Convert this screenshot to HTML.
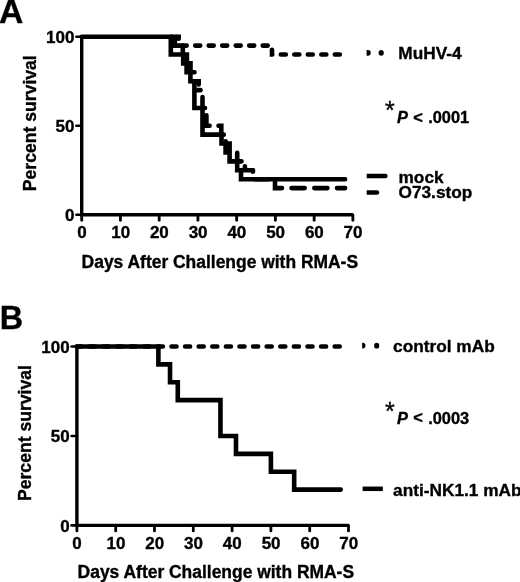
<!DOCTYPE html>
<html><head><meta charset="utf-8"><style>
html,body{margin:0;padding:0;background:#fff;}
svg{display:block;will-change:transform;}
.t{font-family:"Liberation Sans", sans-serif;font-weight:bold;font-size:17px;fill:#000;stroke:#000;stroke-width:0.35px;}
.xt{font-family:"Liberation Sans", sans-serif;font-weight:bold;font-size:17.45px;fill:#000;stroke:#000;stroke-width:0.35px;}
.yt{font-family:"Liberation Sans", sans-serif;font-weight:bold;font-size:17.6px;fill:#000;stroke:#000;stroke-width:0.35px;}
.big{font-family:"Liberation Sans", sans-serif;font-weight:bold;font-size:32.4px;fill:#000;stroke:#000;stroke-width:0.35px;}
.lg{font-family:"Liberation Sans", sans-serif;font-weight:bold;font-size:17.25px;fill:#000;stroke:#000;stroke-width:0.35px;}
.pv{font-family:"Liberation Sans", sans-serif;font-weight:bold;font-size:16.4px;fill:#000;stroke:#000;stroke-width:0.35px;}
.star{font-family:"Liberation Sans", sans-serif;font-weight:normal;font-size:25px;fill:#000;stroke:#000;stroke-width:0.35px;}
</style></head><body>
<svg width="520" height="582" viewBox="0 0 520 582">
<rect width="520" height="582" fill="#fff"/>
<text transform="translate(-0.9,22.5) scale(1.04,1)" class="big">A</text>
<text x="-0.3" y="328.6" class="big">B</text>
<path d="M81.70,36.70V214.80H352.88" fill="none" stroke="#000" stroke-width="3.4" stroke-linecap="butt" stroke-linejoin="miter"/>
<line x1="81.70" y1="214.80" x2="81.70" y2="220.30" stroke="#000" stroke-width="2.8" stroke-linecap="round"/>
<line x1="120.44" y1="214.80" x2="120.44" y2="220.30" stroke="#000" stroke-width="2.8" stroke-linecap="round"/>
<line x1="159.18" y1="214.80" x2="159.18" y2="220.30" stroke="#000" stroke-width="2.8" stroke-linecap="round"/>
<line x1="197.92" y1="214.80" x2="197.92" y2="220.30" stroke="#000" stroke-width="2.8" stroke-linecap="round"/>
<line x1="236.66" y1="214.80" x2="236.66" y2="220.30" stroke="#000" stroke-width="2.8" stroke-linecap="round"/>
<line x1="275.40" y1="214.80" x2="275.40" y2="220.30" stroke="#000" stroke-width="2.8" stroke-linecap="round"/>
<line x1="314.14" y1="214.80" x2="314.14" y2="220.30" stroke="#000" stroke-width="2.8" stroke-linecap="round"/>
<line x1="352.88" y1="214.80" x2="352.88" y2="220.30" stroke="#000" stroke-width="2.8" stroke-linecap="round"/>
<line x1="81.70" y1="214.80" x2="76.40" y2="214.80" stroke="#000" stroke-width="2.6" stroke-linecap="round"/>
<line x1="81.70" y1="125.75" x2="76.40" y2="125.75" stroke="#000" stroke-width="2.6" stroke-linecap="round"/>
<line x1="81.70" y1="36.70" x2="76.40" y2="36.70" stroke="#000" stroke-width="2.6" stroke-linecap="round"/>
<text x="81.90" y="238.10" text-anchor="middle" class="t">0</text>
<text x="120.64" y="238.10" text-anchor="middle" class="t">10</text>
<text x="159.38" y="238.10" text-anchor="middle" class="t">20</text>
<text x="198.12" y="238.10" text-anchor="middle" class="t">30</text>
<text x="236.86" y="238.10" text-anchor="middle" class="t">40</text>
<text x="275.60" y="238.10" text-anchor="middle" class="t">50</text>
<text x="314.34" y="238.10" text-anchor="middle" class="t">60</text>
<text x="353.08" y="238.10" text-anchor="middle" class="t">70</text>
<text x="74.40" y="220.90" text-anchor="end" class="t">0</text>
<text x="74.40" y="131.85" text-anchor="end" class="t">50</text>
<text x="74.40" y="42.80" text-anchor="end" class="t">100</text>
<text x="81.60" y="267.70" class="xt">Days After Challenge with RMA-S</text>
<path d="M76.90,346.50V525.40H348.50" fill="none" stroke="#000" stroke-width="3.4" stroke-linecap="butt" stroke-linejoin="miter"/>
<line x1="76.90" y1="525.40" x2="76.90" y2="530.90" stroke="#000" stroke-width="2.8" stroke-linecap="round"/>
<line x1="115.70" y1="525.40" x2="115.70" y2="530.90" stroke="#000" stroke-width="2.8" stroke-linecap="round"/>
<line x1="154.50" y1="525.40" x2="154.50" y2="530.90" stroke="#000" stroke-width="2.8" stroke-linecap="round"/>
<line x1="193.30" y1="525.40" x2="193.30" y2="530.90" stroke="#000" stroke-width="2.8" stroke-linecap="round"/>
<line x1="232.10" y1="525.40" x2="232.10" y2="530.90" stroke="#000" stroke-width="2.8" stroke-linecap="round"/>
<line x1="270.90" y1="525.40" x2="270.90" y2="530.90" stroke="#000" stroke-width="2.8" stroke-linecap="round"/>
<line x1="309.70" y1="525.40" x2="309.70" y2="530.90" stroke="#000" stroke-width="2.8" stroke-linecap="round"/>
<line x1="348.50" y1="525.40" x2="348.50" y2="530.90" stroke="#000" stroke-width="2.8" stroke-linecap="round"/>
<line x1="76.90" y1="525.40" x2="71.60" y2="525.40" stroke="#000" stroke-width="2.6" stroke-linecap="round"/>
<line x1="76.90" y1="435.95" x2="71.60" y2="435.95" stroke="#000" stroke-width="2.6" stroke-linecap="round"/>
<line x1="76.90" y1="346.50" x2="71.60" y2="346.50" stroke="#000" stroke-width="2.6" stroke-linecap="round"/>
<text x="77.10" y="548.70" text-anchor="middle" class="t">0</text>
<text x="115.90" y="548.70" text-anchor="middle" class="t">10</text>
<text x="154.70" y="548.70" text-anchor="middle" class="t">20</text>
<text x="193.50" y="548.70" text-anchor="middle" class="t">30</text>
<text x="232.30" y="548.70" text-anchor="middle" class="t">40</text>
<text x="271.10" y="548.70" text-anchor="middle" class="t">50</text>
<text x="309.90" y="548.70" text-anchor="middle" class="t">60</text>
<text x="348.70" y="548.70" text-anchor="middle" class="t">70</text>
<text x="69.60" y="531.50" text-anchor="end" class="t">0</text>
<text x="69.60" y="442.05" text-anchor="end" class="t">50</text>
<text x="69.60" y="352.60" text-anchor="end" class="t">100</text>
<text x="77.60" y="578.30" class="xt">Days After Challenge with RMA-S</text>
<text transform="translate(36,191.2) rotate(-90)" class="yt">Percent survival</text>
<text transform="translate(31.0,501.0) rotate(-90)" class="yt">Percent survival</text>
<path d="M81.70,36.70 L170.80,36.70 L170.80,54.51 L183.20,54.51 L183.20,63.42 L186.60,63.42 L186.60,72.32 L190.40,72.32 L190.40,81.23 L194.40,81.23 L194.40,107.94 L202.50,107.94 L202.50,134.66 L221.50,134.66 L221.50,143.56 L229.60,143.56 L229.60,161.37 L237.20,161.37 L237.20,170.28 L241.00,170.28 L241.00,179.18 L345.13,179.18" fill="none" stroke="#000" stroke-width="4.6" stroke-linecap="round" stroke-linejoin="miter"/>
<path d="M252.90,170.28 L252.90,179.18 L275.00,179.18 L275.00,188.09 L345.13,188.09" fill="none" stroke="#000" stroke-width="4.6" stroke-dasharray="13.1 9.6" stroke-dashoffset="11.59" stroke-linecap="round" stroke-linejoin="miter"/>
<path d="M178.70,45.61 L272.00,45.61 L272.00,54.51 L345.13,54.51" fill="none" stroke="#000" stroke-width="4.6" stroke-dasharray="5.0 8.5" stroke-dashoffset="10.49" stroke-linecap="round" stroke-linejoin="miter"/>
<path d="M171.00,36.70 L174.90,36.70 L174.90,45.61 L180.00,45.61" fill="none" stroke="#000" stroke-width="4.6" stroke-linecap="round" stroke-linejoin="miter"/>
<path d="M176.70,36.70 L178.70,36.70 L178.70,38.80" fill="none" stroke="#000" stroke-width="4.6" stroke-linecap="round" stroke-linejoin="miter"/>
<path d="M182.80,45.61 L182.80,54.51 L186.90,54.51 L186.90,63.42 L190.50,63.42 L190.50,72.32 L194.50,72.32" fill="none" stroke="#000" stroke-width="4.6" stroke-linecap="round" stroke-linejoin="miter"/>
<path d="M192.00,81.23 L198.70,81.23 L198.70,84.50" fill="none" stroke="#000" stroke-width="4.6" stroke-linecap="round" stroke-linejoin="miter"/>
<path d="M196.00,90.13 L200.50,90.13" fill="none" stroke="#000" stroke-width="4.6" stroke-linecap="round" stroke-linejoin="miter"/>
<path d="M202.50,97.00 L202.50,107.94 L205.00,107.94" fill="none" stroke="#000" stroke-width="4.6" stroke-linecap="round" stroke-linejoin="miter"/>
<path d="M206.40,115.30 L206.40,125.75 L209.60,125.75" fill="none" stroke="#000" stroke-width="4.6" stroke-linecap="round" stroke-linejoin="miter"/>
<path d="M218.50,125.75 L221.30,125.75 L221.30,134.66 L223.80,134.66" fill="none" stroke="#000" stroke-width="4.6" stroke-linecap="round" stroke-linejoin="miter"/>
<path d="M225.60,141.20 L225.60,152.47 L228.00,152.47" fill="none" stroke="#000" stroke-width="4.6" stroke-linecap="round" stroke-linejoin="miter"/>
<path d="M237.20,152.80 L237.20,161.37 L241.50,161.37" fill="none" stroke="#000" stroke-width="4.6" stroke-linecap="round" stroke-linejoin="miter"/>
<path d="M244.90,166.40 L244.90,170.28 L252.90,170.28" fill="none" stroke="#000" stroke-width="4.6" stroke-linecap="round" stroke-linejoin="miter"/>
<path d="M76.90,346.50 L158.38,346.50 L158.38,364.39 L170.02,364.39 L170.02,382.28 L177.78,382.28 L177.78,400.17 L220.46,400.17 L220.46,435.95 L235.98,435.95 L235.98,453.84 L270.90,453.84 L270.90,471.73 L294.18,471.73 L294.18,489.62 L340.74,489.62" fill="none" stroke="#000" stroke-width="4.6" stroke-linecap="round" stroke-linejoin="miter"/>
<path d="M76.90,346.50 L340.74,346.50" fill="none" stroke="#000" stroke-width="4.6" stroke-dasharray="5.0 8.6" stroke-dashoffset="0.60" stroke-linecap="round" stroke-linejoin="miter"/>
<path d="M366.6,49.95H367.9A2.85,2.85 0 0 1 367.9,55.65H366.6Z" fill="#000"/>
<ellipse cx="381.2" cy="52.8" rx="2.6" ry="2.9" fill="#000"/>
<text x="398.3" y="58.8" class="lg">MuHV-4</text>
<text x="385.1" y="119.2" class="star">*</text>
<text x="397.0" y="122.8" class="pv" font-style="italic">P</text>
<text x="413.2" y="122.6" class="pv">&lt;</text>
<text x="428.2" y="122.8" class="pv">.0001</text>
<path d="M366.7,173.85H385.4A2.25,2.25 0 0 1 385.4,178.35H366.7Z" fill="#000"/>
<text x="398.5" y="182.5" class="lg">mock</text>
<path d="M366.7,190.15H377.0A2.25,2.25 0 0 1 377.0,194.65H366.7Z" fill="#000"/>
<text x="398.5" y="198.1" class="lg">O73.stop</text>
<path d="M362.1,342.75H362.6A2.85,2.85 0 0 1 362.6,348.45H362.1Z" fill="#000"/>
<ellipse cx="376.7" cy="345.7" rx="2.6" ry="2.9" fill="#000"/>
<text x="393.1" y="351.5" class="lg">control mAb</text>
<text x="385.1" y="420.3" class="star">*</text>
<text x="397.0" y="423.6" class="pv" font-style="italic">P</text>
<text x="413.2" y="423.4" class="pv">&lt;</text>
<text x="428.2" y="423.6" class="pv">.0003</text>
<rect x="362.6" y="486.55" width="20.2" height="4.5" fill="#000"/>
<text x="393.1" y="495.8" class="lg">anti-NK1.1 mAb</text>
</svg>
</body></html>
